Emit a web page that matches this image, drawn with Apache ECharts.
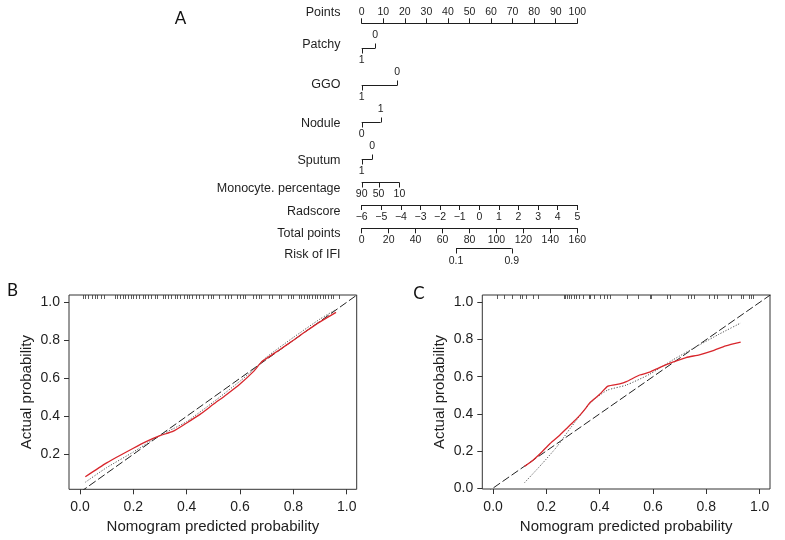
<!DOCTYPE html>
<html>
<head>
<meta charset="utf-8">
<script src="https://cdn.jsdelivr.net/npm/echarts@6/dist/echarts.min.js"></script>
<style>
html,body{margin:0;padding:0;background:#fff;}
#chart{width:785px;height:540px;}
</style>
</head>
<body>
<div id="chart"></div>
<script>
// ================= DATA =================
// Panel A – nomogram
const pointsRange = [0, 100];
const pointsStep = 10;
const radscoreRange = [-6, 5];
const radscoreStep = 1;
const totalPointsRange = [0, 160];
const totalPointsStep = 20;

const axisRowNames = ['Points', 'Radscore', 'Total points', 'Risk of IFI'];
const varNames = ['Patchy', 'GGO', 'Nodule', 'Sputum', 'Monocyte. percentage'];
const patchyLevels = ['1', '0'];
const patchyPoints = [0, 6.2];
const ggoLevels = ['1', '0'];
const ggoPoints = [0, 16.5];
const noduleLevels = ['0', '1'];
const nodulePoints = [0, 8.8];
const sputumLevels = ['1', '0'];
const sputumPoints = [0, 4.9];
const monocyteLevels = ['90', '50', '10'];
const monocytePoints = [0, 7.8, 17.5];
const riskLevels = ['0.1', '0.9'];
const riskTotalPoints = [70, 111.3];

// Panels B and C – calibration curves
const calTicks = [0, 0.2, 0.4, 0.6, 0.8, 1.0];
const idealX = [-0.1, 1.1];

const bBiasX = [0.02, 0.1, 0.2, 0.25, 0.3, 0.35, 0.4, 0.45, 0.5, 0.55, 0.6, 0.65, 0.68, 0.7, 0.75, 0.8, 0.85, 0.9, 0.96];
const bBiasY = [0.082, 0.155, 0.232, 0.268, 0.298, 0.322, 0.365, 0.41, 0.463, 0.515, 0.57, 0.635, 0.685, 0.705, 0.752, 0.8, 0.85, 0.897, 0.947];
const bAppX = [0.02, 0.1, 0.2, 0.3, 0.35, 0.4, 0.5, 0.6, 0.65, 0.7, 0.8, 0.9, 0.96];
const bAppY = [0.053, 0.13, 0.212, 0.3, 0.335, 0.372, 0.475, 0.585, 0.645, 0.712, 0.815, 0.912, 0.962];
const bRug = [0.01, 0.02, 0.03, 0.045, 0.055, 0.065, 0.08, 0.09, 0.13, 0.14, 0.15, 0.16, 0.17, 0.18, 0.19, 0.2,
  0.21, 0.22, 0.235, 0.245, 0.255, 0.265, 0.28, 0.29, 0.31, 0.32, 0.33, 0.34, 0.355, 0.365, 0.375, 0.39,
  0.4, 0.41, 0.42, 0.435, 0.445, 0.46, 0.48, 0.49, 0.5, 0.52, 0.545, 0.555, 0.565, 0.59, 0.6, 0.61, 0.62,
  0.65, 0.66, 0.67, 0.68, 0.71, 0.72, 0.745, 0.755, 0.78, 0.79, 0.8, 0.82, 0.83, 0.84, 0.85, 0.86, 0.87,
  0.88, 0.89, 0.9, 0.91, 0.92, 0.93, 0.94, 0.95, 0.97];

const cBiasX = [0.118, 0.145, 0.18, 0.214, 0.25, 0.276, 0.3, 0.326, 0.345, 0.363, 0.4, 0.431, 0.475, 0.5, 0.55, 0.587, 0.624, 0.674, 0.724, 0.774, 0.823, 0.873, 0.929];
const cBiasY = [0.117, 0.144, 0.19, 0.24, 0.285, 0.321, 0.355, 0.393, 0.425, 0.46, 0.505, 0.549, 0.561, 0.573, 0.609, 0.624, 0.649, 0.678, 0.703, 0.718, 0.739, 0.766, 0.786];
const cAppX = [0.118, 0.18, 0.239, 0.289, 0.357, 0.39, 0.43, 0.5, 0.587, 0.674, 0.774, 0.848, 0.929];
const cAppY = [0.029, 0.125, 0.222, 0.321, 0.447, 0.49, 0.528, 0.555, 0.613, 0.69, 0.771, 0.829, 0.889];
const cRug = [0.015, 0.04, 0.071, 0.1, 0.11, 0.125, 0.15, 0.17, 0.265, 0.271, 0.278, 0.284, 0.293, 0.303, 0.311,
  0.321, 0.338, 0.359, 0.365, 0.38, 0.403, 0.415, 0.428, 0.44, 0.503, 0.543, 0.588, 0.594, 0.653, 0.662,
  0.731, 0.741, 0.753, 0.81, 0.828, 0.841, 0.882, 0.891, 0.929, 0.939, 0.96, 0.969, 0.977];

// ================= LAYOUT / STYLE =================
const FONT = "'Liberation Sans', Arial, Helvetica, sans-serif";
const INK = '#1e1e1e';
const NOMO = { left: 361.7, width: 215.6, top: 23.3, height: 181.7, labelRight: 340.5, tick: 5, labelOff: 12.5,
  nameSize: 12.5, tickSize: 10.5, totalOffset: 23.3 };
const nomoRowsLayout = [
  { y: 47.7, labelY: 45, sides: [1, -1] },
  { y: 85, labelY: 85, sides: [1, -1] },
  { y: 121.7, labelY: 124, sides: [1, -1] },
  { y: 159, labelY: 161, sides: [1, -1] },
  { y: 181.7, labelY: 189, sides: [1, 1, 1] }
];
const axisRowLabelY = [12.7, 211.7, 233.3, 255];
const riskLayout = { y: 248.3 };

const nomoRows = [
  { name: varNames[0], levels: patchyLevels, pts: patchyPoints },
  { name: varNames[1], levels: ggoLevels, pts: ggoPoints },
  { name: varNames[2], levels: noduleLevels, pts: nodulePoints },
  { name: varNames[3], levels: sputumLevels, pts: sputumPoints },
  { name: varNames[4], levels: monocyteLevels, pts: monocytePoints }
];

const crisp = v => Math.round(v) + 0.5;
const minus = v => String(v).replace('-', '\u2212');

function segGroup(xs, levels, y, sides) {
  const children = [];
  const yc = crisp(y);
  children.push({ type: 'line', shape: { x1: Math.min(...xs), y1: yc, x2: Math.max(...xs), y2: yc },
    style: { stroke: INK, lineWidth: 1 } });
  xs.forEach((x, j) => {
    const s = sides[j];
    const xc = crisp(x);
    children.push({ type: 'line', shape: { x1: xc, y1: yc, x2: xc, y2: yc + s * NOMO.tick },
      style: { stroke: INK, lineWidth: 1 } });
    children.push({ type: 'text', style: { text: levels[j], x: x, y: y + s * NOMO.labelOff,
      align: 'center', verticalAlign: 'middle', font: NOMO.tickSize + 'px ' + FONT, fill: INK } });
  });
  return children;
}

function nomoRowItem(params, api) {
  const i = api.value(0);
  const row = nomoRows[i];
  const lay = nomoRowsLayout[i];
  const xs = row.pts.map(p => api.coord([p, 0])[0]);
  const children = segGroup(xs, row.levels, lay.y, lay.sides);
  children.push({ type: 'text', style: { text: row.name, x: NOMO.labelRight, y: lay.labelY,
    align: 'right', verticalAlign: 'middle', font: NOMO.nameSize + 'px ' + FONT, fill: INK } });
  return { type: 'group', children };
}

function riskItem(params, api) {
  const xs = riskTotalPoints.map(p => api.coord([p, 0])[0]);
  const children = segGroup(xs, riskLevels, riskLayout.y, riskLevels.map(() => 1));
  return { type: 'group', children };
}

function rugItem(params, api) {
  const x = crisp(api.coord([api.value(0), 0.5])[0]);
  const top = params.coordSys.y;
  return { type: 'line', shape: { x1: x, y1: top, x2: x, y2: top + 4 },
    style: { stroke: '#333', lineWidth: 0.8 } };
}

const zip = (xs, ys) => xs.map((x, i) => [x, ys[i]]);

function numAxis(extra) {
  return Object.assign({
    type: 'value', gridIndex: 0,
    axisLine: { show: true, onZero: false, lineStyle: { color: INK, width: 1 } },
    axisTick: { show: true, inside: false, length: 5, lineStyle: { color: INK, width: 1 } },
    axisLabel: { show: true, fontSize: NOMO.tickSize, color: INK, fontFamily: FONT, margin: 6, showMinLabel: true, showMaxLabel: true },
    splitLine: { show: false }
  }, extra);
}

function calX(grid, min, max) {
  return {
    type: 'value', gridIndex: grid, min: min, max: max, position: 'bottom',
    axisLine: { show: false, onZero: false },
    axisTick: { show: true, inside: false, length: 5, customValues: calTicks, lineStyle: { color: '#333', width: 1 } },
    axisLabel: { customValues: calTicks, formatter: v => v.toFixed(1), fontSize: 14, color: INK, fontFamily: FONT, margin: 11 },
    splitLine: { show: false },
    name: 'Nomogram predicted probability', nameLocation: 'middle', nameGap: 30,
    nameTextStyle: { fontSize: 15, color: INK, fontFamily: FONT }
  };
}
function calY(grid, min, max, ticks) {
  return {
    type: 'value', gridIndex: grid, min: min, max: max, position: 'left',
    axisLine: { show: false, onZero: false },
    axisTick: { show: true, inside: false, length: 5, customValues: ticks, lineStyle: { color: '#333', width: 1 } },
    axisLabel: { customValues: ticks, formatter: v => v.toFixed(1), fontSize: 14, color: INK, fontFamily: FONT, margin: 9 },
    splitLine: { show: false },
    name: 'Actual probability', nameLocation: 'middle', nameRotate: 90, nameGap: 35,
    nameTextStyle: { fontSize: 15, color: INK, fontFamily: FONT }
  };
}

function calSeries(xi, yi, bias, app, rug) {
  return [
    { type: 'line', xAxisIndex: xi, yAxisIndex: yi, data: idealX.map(v => [v, v]), showSymbol: false, clip: true,
      lineStyle: { color: '#222', width: 1, type: [8, 3] }, silent: true, z: 2 },
    { type: 'line', xAxisIndex: xi, yAxisIndex: yi, data: app, showSymbol: false, smooth: 0.2, clip: true,
      lineStyle: { color: '#555', width: 1, type: [1.2, 1.6] }, silent: true, z: 3 },
    { type: 'line', xAxisIndex: xi, yAxisIndex: yi, data: bias, showSymbol: false, smooth: 0.2, clip: true,
      lineStyle: { color: '#d8262c', width: 1.3 }, silent: true, z: 4 },
    { type: 'custom', xAxisIndex: xi, yAxisIndex: yi, data: rug.map(v => [v]), renderItem: rugItem, silent: true, z: 5 }
  ];
}

const chart = echarts.init(document.getElementById('chart'), null, { renderer: 'canvas' });
const option = {
  animation: false,
  backgroundColor: '#fff',
  textStyle: { fontFamily: FONT },
  grid: [
    { left: NOMO.left, top: NOMO.top, width: NOMO.width, height: NOMO.height, outerBoundsMode: 'none' },
    { left: 69, top: 295, width: 287.7, height: 194.3, show: true, borderColor: '#333', borderWidth: 1, backgroundColor: 'transparent', outerBoundsMode: 'none' },
    { left: 482.3, top: 295, width: 287.7, height: 194, show: true, borderColor: '#333', borderWidth: 1, backgroundColor: 'transparent', outerBoundsMode: 'none' }
  ],
  xAxis: [
    numAxis({ position: 'top', min: pointsRange[0], max: pointsRange[1], interval: pointsStep }),
    numAxis({ position: 'bottom', min: radscoreRange[0], max: radscoreRange[1], interval: radscoreStep,
      axisLabel: { show: true, fontSize: NOMO.tickSize, color: INK, fontFamily: FONT, margin: 7, formatter: minus, showMinLabel: true, showMaxLabel: true } }),
    numAxis({ position: 'bottom', offset: NOMO.totalOffset, min: totalPointsRange[0], max: totalPointsRange[1], interval: totalPointsStep }),
    calX(1, -0.0412, 1.0375),
    calX(2, -0.0405, 1.039)
  ],
  yAxis: [
    { type: 'value', gridIndex: 0, min: 0, max: 1, show: false },
    calY(1, 0.0158, 1.0384, calTicks.slice(1)),
    calY(2, -0.005, 1.04, calTicks)
  ],
  series: [
    { type: 'custom', xAxisIndex: 0, yAxisIndex: 0, data: nomoRows.map((r, i) => [i]), renderItem: nomoRowItem, silent: true },
    { type: 'custom', xAxisIndex: 2, yAxisIndex: 0, data: [[0]], renderItem: riskItem, silent: true },
    ...calSeries(3, 1, zip(bBiasX, bBiasY), zip(bAppX, bAppY), bRug),
    ...calSeries(4, 2, zip(cBiasX, cBiasY), zip(cAppX, cAppY), cRug)
  ],
  graphic: [
    ...axisRowNames.map((t, i) => ({ type: 'text', silent: true,
      style: { text: t, x: NOMO.labelRight, y: axisRowLabelY[i], align: 'right', verticalAlign: 'middle',
        font: NOMO.nameSize + 'px ' + FONT, fill: INK } })),
    { type: 'text', silent: true, style: { text: 'A', x: 180.5, y: 19, align: 'center', verticalAlign: 'middle', font: '17px Lato, sans-serif', fill: '#111' } },
    { type: 'text', silent: true, style: { text: 'B', x: 12.5, y: 291, align: 'center', verticalAlign: 'middle', font: '17px Lato, sans-serif', fill: '#111' } },
    { type: 'text', silent: true, style: { text: 'C', x: 419, y: 294, align: 'center', verticalAlign: 'middle', font: '17px Lato, sans-serif', fill: '#111' } }
  ]
};
chart.setOption(option);
</script>
</body>
</html>
